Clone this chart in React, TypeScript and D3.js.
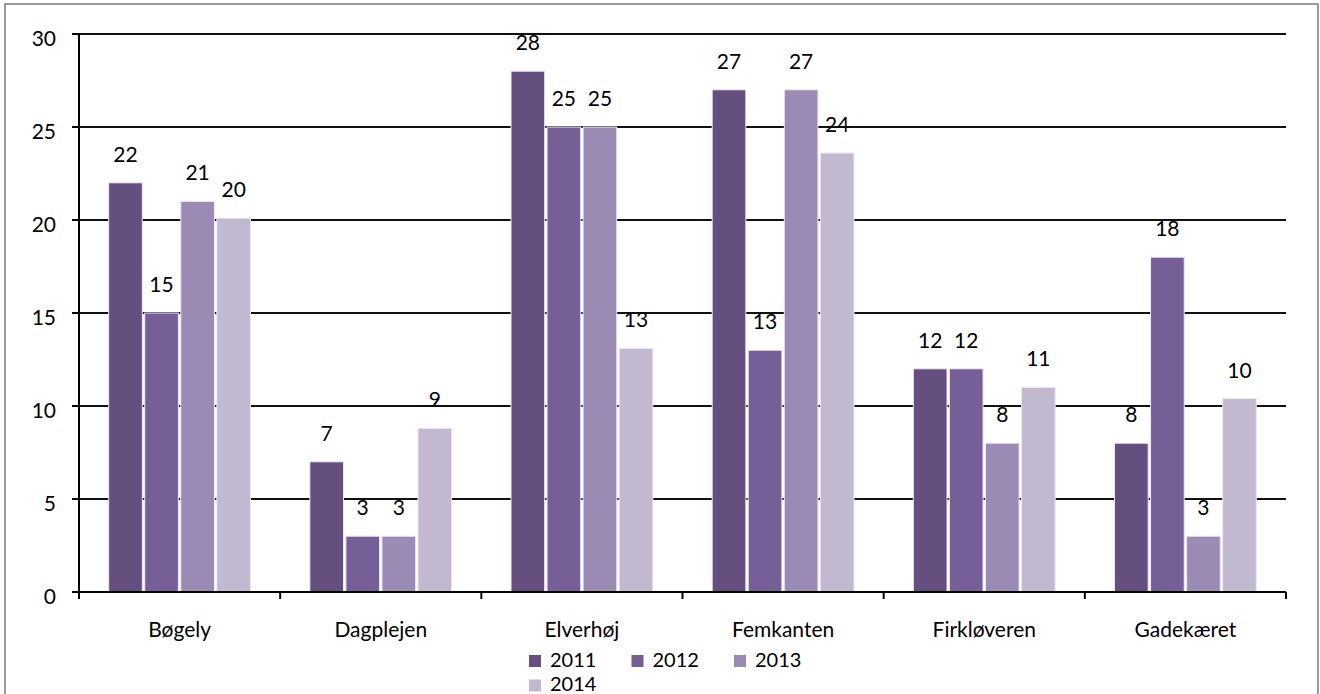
import React from 'react';
import * as d3 from 'd3';

// chart data
const categories = ['Bøgely', 'Dagplejen', 'Elverhøj', 'Femkanten', 'Firkløveren', 'Gadekæret'];
const years = ['2011', '2012', '2013', '2014'];
const values2011 = [22, 7, 28, 27, 12, 8];
const values2012 = [15, 3, 25, 13, 12, 18];
const values2013 = [21, 3, 25, 27, 8, 3];
const values2014 = [20.1, 8.8, 13.1, 23.6, 11, 10.4];
const yTicks = [0, 5, 10, 15, 20, 25, 30];
const colors = ['#644f7e', '#765e97', '#9b8ab4', '#c2b9d0'];

const W = 1320;
const H = 694;
const margin = { top: 34, right: 34, bottom: 102, left: 79 };
const FONT = 'Lato, "Open Sans", sans-serif';
const FS = 21;

export default function App() {
	const series = [values2011, values2012, values2013, values2014];

	const x0 = d3.scaleBand()
		.domain(categories)
		.range([margin.left, W - margin.right])
		.padding(0);

	const x1 = d3.scaleBand()
		.domain(years)
		.range([0, x0.bandwidth()])
		.paddingInner(0)
		.paddingOuter(0.79);

	const y = d3.scaleLinear()
		.domain([0, 30])
		.range([H - margin.bottom, margin.top]);

	const fmt = d3.format('.0f');
	const y0 = y(0);
	const xEnd = W - margin.right;

	// category boundaries for the little tick marks under the axis
	const boundaries = categories.map(c => x0(c) as number).concat([xEnd]);

	return (
		<svg
			width={W}
			height={H}
			style={{ position: 'absolute', left: 0, top: 0 }}
			fontFamily={FONT}
		>
			<rect x={0} y={0} width={W} height={H} fill="#fff" />
			<rect x={5} y={4} width={1313} height={700} fill="none" stroke="#7a7a7a" strokeWidth={1.5} />

			{/* grid */}
			{yTicks.filter(t => t > 0).map(t => (
				<line key={`g${t}`} x1={margin.left} x2={xEnd} y1={y(t)} y2={y(t)} stroke="#111" strokeWidth={2} />
			))}

			{/* bars */}
			{categories.map((c, ci) => (
				<g key={c} transform={`translate(${x0(c)},0)`}>
					{years.map((yr, si) => {
						const v = series[si][ci];
						const bx = (x1(yr) as number) + 1.2;
						const bw = x1.bandwidth() - 2.4;
						return (
							<g key={yr}>
								<rect
									x={bx}
									y={y(v)}
									width={bw}
									height={y0 - y(v)}
									fill={colors[si]}
									stroke="#ece8f1"
									strokeWidth={1}
								/>
								<text
									x={bx + bw / 2}
									y={y(v) - 21}
									textAnchor="middle"
									fontSize={FS}
									fill="#000"
								>
									{fmt(v)}
								</text>
							</g>
						);
					})}
				</g>
			))}

			{/* y axis */}
			<line x1={margin.left} x2={margin.left} y1={y(30)} y2={y0 + 7} stroke="#000" strokeWidth={2} />
			{yTicks.map(t => (
				<g key={`t${t}`}>
					<line x1={margin.left - 7} x2={margin.left} y1={y(t)} y2={y(t)} stroke="#000" strokeWidth={2} />
					<text x={56} y={y(t) + 5} dy="0.35em" textAnchor="end" fontSize={FS} fill="#000">{t}</text>
				</g>
			))}

			{/* x axis */}
			<line x1={margin.left} x2={xEnd} y1={y0} y2={y0} stroke="#000" strokeWidth={2} />
			{boundaries.map((bx, i) => (
				<line key={`b${i}`} x1={bx} x2={bx} y1={y0} y2={y0 + 7} stroke="#000" strokeWidth={2} />
			))}
			{categories.map(c => (
				<text
					key={`l${c}`}
					x={(x0(c) as number) + x0.bandwidth() / 2}
					y={637}
					textAnchor="middle"
					fontSize={FS}
					fill="#000"
				>
					{c}
				</text>
			))}

			{/* legend */}
			{years.map((yr, i) => {
				const col = i % 3;
				const row = Math.floor(i / 3);
				const lx = 529 + col * 102.5;
				const ly = 655 + row * 24.5;
				return (
					<g key={`lg${yr}`}>
						<rect x={lx} y={ly} width={12} height={12} fill={colors[i]} />
						<text x={lx + 21} y={ly + 11.5} fontSize={20} fill="#000">{yr}</text>
					</g>
				);
			})}
		</svg>
	);
}
